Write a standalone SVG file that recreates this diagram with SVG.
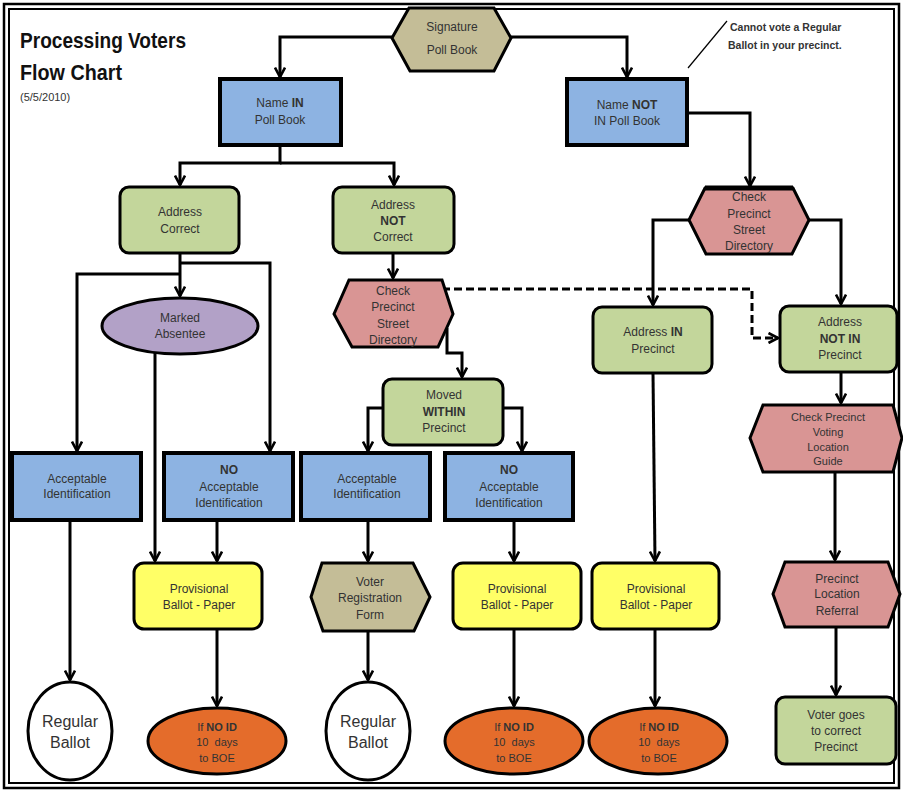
<svg xmlns="http://www.w3.org/2000/svg" width="903" height="791" viewBox="0 0 903 791">
<defs>
<marker id="arr" viewBox="0 0 12 12" refX="11" refY="6" markerWidth="12" markerHeight="12" markerUnits="userSpaceOnUse" orient="auto">
<path d="M1.5,1 L11,6 L1.5,11" fill="none" stroke="#000" stroke-width="2.6"/>
</marker>
<style>
.blue{fill:#8db3e2;stroke:#000;stroke-width:4}
.green{fill:#c3d69b;stroke:#000;stroke-width:3}
.pink{fill:#d99594;stroke:#000;stroke-width:3}
.tan{fill:#c4bd97;stroke:#000;stroke-width:3}
.yellow{fill:#ffff66;stroke:#000;stroke-width:3}
.purple{fill:#b2a1c7;stroke:#000;stroke-width:3}
.orange{fill:#e46c2b;stroke:#000;stroke-width:3}
.white{fill:#fff;stroke:#000;stroke-width:3}
text{font-family:"Liberation Sans",Arial,sans-serif;font-size:12px;fill:#333;text-anchor:middle}
.b{font-weight:bold}
.sm{font-size:11px}
.big{font-size:16px}
.title{font-size:22.5px;font-weight:bold;fill:#111;text-anchor:start}
.conn{fill:none;stroke:#000;stroke-width:3}
.dash{stroke-dasharray:8,4}
</style>
</defs>
<rect x="0" y="0" width="903" height="791" fill="#fff"/>
<rect x="4" y="4" width="895" height="784" fill="none" stroke="#000" stroke-width="2.5"/>
<rect x="9" y="9" width="885" height="774" fill="none" stroke="#000" stroke-width="2"/>

<g id="title">
<text class="title" x="20" y="48" textLength="166" lengthAdjust="spacingAndGlyphs">Processing Voters</text>
<text class="title" x="20" y="80" textLength="102" lengthAdjust="spacingAndGlyphs">Flow Chart</text>
<text x="20" y="101" style="text-anchor:start;font-size:11px">(5/5/2010)</text>
</g>

<g id="annotation">
<line x1="688" y1="68" x2="727" y2="21" stroke="#000" stroke-width="1.2"/>
<text class="b" x="730" y="31" style="text-anchor:start;font-size:10.5px">Cannot vote a Regular</text>
<text class="b" x="728" y="49" style="text-anchor:start;font-size:10.5px">Ballot in your precinct.</text>
</g>

<g id="connectors">
<path class="conn" d="M392,37 H280 V77" marker-end="url(#arr)"/>
<path class="conn" d="M511,37 H627 V77" marker-end="url(#arr)"/>
<path class="conn" d="M280,145 V163 H180 V185"  marker-end="url(#arr)"/>
<path class="conn" d="M280,163 H394 V185" marker-end="url(#arr)"/>
<path class="conn" d="M687,113 H750 V186" marker-end="url(#arr)"/>
<path class="conn" d="M689,220 H653 V305" marker-end="url(#arr)"/>
<path class="conn" d="M809,220 H841 V304" marker-end="url(#arr)"/>
<path class="conn" d="M180,253 V296" marker-end="url(#arr)"/>
<path class="conn" d="M180,263 H270 V451" marker-end="url(#arr)"/>
<path class="conn" d="M180,274 H77 V451" marker-end="url(#arr)"/>
<path class="conn" d="M155,352 V561" marker-end="url(#arr)"/>
<path class="conn" d="M393,253 V278" marker-end="url(#arr)"/>
<path class="conn dash" d="M442,289 H752 V338 H778" marker-end="url(#arr)"/>
<path class="conn" d="M447,328 V353 H462 V377" marker-end="url(#arr)"/>
<path class="conn" d="M383,408 H368 V451" marker-end="url(#arr)"/>
<path class="conn" d="M503,408 H522 V451" marker-end="url(#arr)"/>
<path class="conn" d="M70,520 V680" marker-end="url(#arr)"/>
<path class="conn" d="M217,520 V561" marker-end="url(#arr)"/>
<path class="conn" d="M368,520 V561" marker-end="url(#arr)"/>
<path class="conn" d="M514,520 V561" marker-end="url(#arr)"/>
<path class="conn" d="M653,373 L655,561" marker-end="url(#arr)"/>
<path class="conn" d="M841,372 V403" marker-end="url(#arr)"/>
<path class="conn" d="M835,472 V560" marker-end="url(#arr)"/>
<path class="conn" d="M217,629 V706" marker-end="url(#arr)"/>
<path class="conn" d="M368,631 V680" marker-end="url(#arr)"/>
<path class="conn" d="M514,629 V706" marker-end="url(#arr)"/>
<path class="conn" d="M655,629 V706" marker-end="url(#arr)"/>
<path class="conn" d="M836,627 V695" marker-end="url(#arr)"/>
</g>

<g id="signature">
<polygon class="tan" points="392,38 409,8 494,8 511,38 494,71 410,71"/>
<text x="452" y="31">Signature</text>
<text x="452" y="54">Poll Book</text>
</g>

<g id="name-in">
<rect class="blue" x="220" y="79" width="121" height="66"/>
<text x="280" y="107">Name <tspan class="b">IN</tspan></text>
<text x="280" y="124">Poll Book</text>
</g>

<g id="name-not-in">
<rect class="blue" x="567" y="79" width="120" height="66"/>
<text x="627" y="109">Name <tspan class="b">NOT</tspan></text>
<text x="627" y="125">IN Poll Book</text>
</g>

<g id="address-correct">
<rect class="green" x="120" y="187" width="119" height="66" rx="9"/>
<text x="180" y="216">Address</text>
<text x="180" y="233">Correct</text>
</g>

<g id="address-not-correct">
<rect class="green" x="333" y="187" width="121" height="66" rx="9"/>
<text x="393" y="209">Address</text>
<text class="b" x="393" y="225">NOT</text>
<text x="393" y="241">Correct</text>
</g>

<g id="check-street-right">
<polygon class="pink" points="689,220 705,188 793,188 809,220 792,254 706,254"/>
<line x1="705" y1="188" x2="793" y2="188" stroke="#000" stroke-width="5"/>
<text x="749" y="201">Check</text>
<text x="749" y="218">Precinct</text>
<text x="749" y="234">Street</text>
<text x="749" y="250">Directory</text>
</g>

<g id="marked-absentee">
<ellipse class="purple" cx="180" cy="326" rx="78" ry="28"/>
<text x="180" y="322">Marked</text>
<text x="180" y="338">Absentee</text>
</g>

<g id="check-street-mid">
<polygon class="pink" points="334,314 349,280 442,280 453,314 438,347 352,347"/>
<text x="393" y="295">Check</text>
<text x="393" y="311">Precinct</text>
<text x="393" y="328">Street</text>
<text x="393" y="344">Directory</text>
</g>

<g id="address-in-precinct">
<rect class="green" x="593" y="307" width="119" height="66" rx="9"/>
<text x="653" y="336">Address <tspan class="b">IN</tspan></text>
<text x="653" y="353">Precinct</text>
</g>

<g id="address-not-in-precinct">
<rect class="green" x="780" y="306" width="117" height="66" rx="9"/>
<text x="840" y="326">Address</text>
<text class="b" x="840" y="343">NOT IN</text>
<text x="840" y="359">Precinct</text>
</g>

<g id="moved-within">
<rect class="green" x="383" y="379" width="120" height="66" rx="9"/>
<text x="444" y="399">Moved</text>
<text class="b" x="444" y="416">WITHIN</text>
<text x="444" y="432">Precinct</text>
</g>

<g id="check-voting-location">
<polygon class="pink" points="750,438 763,405 893,405 902,438 893,472 763,472"/>
<text class="sm" x="828" y="421">Check Precinct</text>
<text class="sm" x="828" y="436">Voting</text>
<text class="sm" x="828" y="451">Location</text>
<text class="sm" x="828" y="465">Guide</text>
</g>

<g id="acceptable-id-1">
<rect class="blue" x="12" y="453" width="129" height="67"/>
<text x="77" y="483">Acceptable</text>
<text x="77" y="498">Identification</text>
</g>

<g id="no-acceptable-id-1">
<rect class="blue" x="164" y="453" width="129" height="67"/>
<text class="b" x="229" y="474">NO</text>
<text x="229" y="491">Acceptable</text>
<text x="229" y="507">Identification</text>
</g>

<g id="acceptable-id-2">
<rect class="blue" x="301" y="453" width="129" height="67"/>
<text x="367" y="483">Acceptable</text>
<text x="367" y="498">Identification</text>
</g>

<g id="no-acceptable-id-2">
<rect class="blue" x="445" y="453" width="128" height="67"/>
<text class="b" x="509" y="474">NO</text>
<text x="509" y="491">Acceptable</text>
<text x="509" y="507">Identification</text>
</g>

<g id="provisional-1">
<rect class="yellow" x="134" y="563" width="128" height="66" rx="10"/>
<text x="199" y="593">Provisional</text>
<text x="199" y="609">Ballot - Paper</text>
</g>

<g id="voter-registration">
<polygon class="tan" points="311,597 322,563 413,563 430,597 414,631 323,631"/>
<text x="370" y="586">Voter</text>
<text x="370" y="602">Registration</text>
<text x="370" y="619">Form</text>
</g>

<g id="provisional-2">
<rect class="yellow" x="453" y="563" width="128" height="66" rx="10"/>
<text x="517" y="593">Provisional</text>
<text x="517" y="609">Ballot - Paper</text>
</g>

<g id="provisional-3">
<rect class="yellow" x="592" y="563" width="127" height="66" rx="10"/>
<text x="656" y="593">Provisional</text>
<text x="656" y="609">Ballot - Paper</text>
</g>

<g id="precinct-location-referral">
<polygon class="pink" points="773,594 785,562 888,562 900,594 888,627 785,627"/>
<text x="837" y="583">Precinct</text>
<text x="837" y="598">Location</text>
<text x="837" y="615">Referral</text>
</g>

<g id="regular-ballot-1">
<ellipse class="white" cx="70" cy="731" rx="42" ry="49"/>
<text class="big" x="70" y="727">Regular</text>
<text class="big" x="70" y="748">Ballot</text>
</g>

<g id="no-id-1">
<ellipse class="orange" cx="217" cy="741" rx="69" ry="33"/>
<text class="sm" x="217" y="731">If <tspan class="b">NO ID</tspan></text>
<text class="sm" x="217" y="746" xml:space="preserve">10  days</text>
<text class="sm" x="217" y="762">to BOE</text>
</g>

<g id="regular-ballot-2">
<ellipse class="white" cx="368" cy="731" rx="42" ry="49"/>
<text class="big" x="368" y="727">Regular</text>
<text class="big" x="368" y="748">Ballot</text>
</g>

<g id="no-id-2">
<ellipse class="orange" cx="514" cy="741" rx="69" ry="33"/>
<text class="sm" x="514" y="731">If <tspan class="b">NO ID</tspan></text>
<text class="sm" x="514" y="746" xml:space="preserve">10  days</text>
<text class="sm" x="514" y="762">to BOE</text>
</g>

<g id="no-id-3">
<ellipse class="orange" cx="658" cy="741" rx="69" ry="33"/>
<text class="sm" x="659" y="731">If <tspan class="b">NO ID</tspan></text>
<text class="sm" x="659" y="746" xml:space="preserve">10  days</text>
<text class="sm" x="659" y="762">to BOE</text>
</g>

<g id="voter-goes">
<rect class="green" x="776" y="697" width="120" height="67" rx="9"/>
<text x="836" y="719">Voter goes</text>
<text x="836" y="735">to correct</text>
<text x="836" y="751">Precinct</text>
</g>
</svg>
